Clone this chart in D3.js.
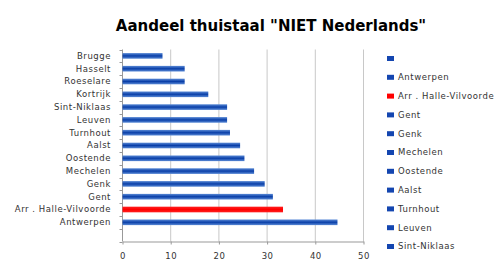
<!DOCTYPE html>
<html>
  <head>
    <meta charset="utf-8">
    <title>Aandeel thuistaal NIET Nederlands</title>
    <style>
body {
  margin: 0;
  background: #fff;
}
text {
  font-family: "DejaVu Sans", sans-serif;
}
    </style>
  </head>
  <body>
    <div id="chart"></div>
    <script src="https://cdn.jsdelivr.net/npm/d3@7/dist/d3.min.js"></script>
    <script>

    // first category is an empty one, drawn at the bottom
    var categories = ['', 'Antwerpen', 'Arr . Halle-Vilvoorde', 'Gent', 'Genk', 'Mechelen',
      'Oostende', 'Aalst', 'Turnhout', 'Leuven', 'Sint-Niklaas', 'Kortrijk',
      'Roeselare', 'Hasselt', 'Brugge'];
    var values = [null, 44.6, 33.3, 31.2, 29.5, 27.3, 25.3, 24.4, 22.3, 21.7, 21.7, 17.8, 12.9, 12.9, 8.3];
    var highlight = 'Arr . Halle-Vilvoorde';
    var xTicks = [0, 10, 20, 30, 40, 50];

    var width = 494,
        height = 265;

    var svg = d3.select('#chart').append('svg')
        .attr('width', width)
        .attr('height', height);

    var defs = svg.append('defs');
    function grad(id, edge, mid) {
      var g = defs.append('linearGradient')
          .attr('id', id)
          .attr('x1', 0).attr('y1', 0).attr('x2', 0).attr('y2', 1);
      g.append('stop').attr('offset', '0%').attr('stop-color', edge);
      g.append('stop').attr('offset', '50%').attr('stop-color', mid);
      g.append('stop').attr('offset', '100%').attr('stop-color', edge);
    }
    grad('blueGrad', '#5a8ad6', '#0a3fa8');
    grad('redGrad', '#ff2020', '#ff0000');

    var x = d3.scaleLinear()
        .domain([0, 50])
        .range([122.5, 363.5]);

    var y = d3.scaleBand()
        .domain(categories)
        .range([241.5, 49.5])
        .paddingInner(0.56)
        .paddingOuter(0.28);

    // title
    svg.append('text')
        .attr('x', 271)
        .attr('y', 31)
        .attr('text-anchor', 'middle')
        .style('font-size', '15px')
        .style('font-weight', 'bold')
        .style('fill', '#000')
        .text('Aandeel thuistaal "NIET Nederlands"');

    // gridlines
    svg.append('g').selectAll('line')
        .data(xTicks.slice(1))
        .enter().append('line')
          .attr('x1', function(d) { return x(d); })
          .attr('x2', function(d) { return x(d); })
          .attr('y1', 49.5)
          .attr('y2', 241.5)
          .style('stroke', '#c8c8c8')
          .style('stroke-width', 1);

    // x axis
    var xAxis = svg.append('g')
        .attr('transform', 'translate(0,241.5)')
        .call(d3.axisBottom(x).tickValues(xTicks).tickSize(3).tickSizeOuter(0).tickPadding(8));
    xAxis.select('.domain').style('stroke', '#999');
    xAxis.selectAll('.tick line').style('stroke', '#999');
    xAxis.selectAll('.tick text')
        .style('font-size', '8.5px')
        .style('letter-spacing', '0.5px')
        .style('fill', '#333')
        .style('font-family', '"DejaVu Sans", sans-serif');

    // y axis
    var yTickPos = d3.range(categories.length + 1).map(function(i) {
      return 241.5 - i * (192 / categories.length);
    });
    var yAxis = svg.append('g');
    yAxis.append('line')
        .attr('x1', 122.5).attr('x2', 122.5)
        .attr('y1', 49.5).attr('y2', 241.5)
        .style('stroke', '#999');
    yAxis.selectAll('.ytick')
        .data(yTickPos)
        .enter().append('line')
          .attr('class', 'ytick')
          .attr('x1', 119.5).attr('x2', 122.5)
          .attr('y1', function(d) { return Math.round(d) + 0.5; })
          .attr('y2', function(d) { return Math.round(d) + 0.5; })
          .style('stroke', '#999');

    yAxis.selectAll('.ylabel')
        .data(categories)
        .enter().append('text')
          .attr('class', 'ylabel')
          .attr('x', 111)
          .attr('y', function(d) { return y(d) + y.bandwidth() / 2; })
          .attr('dy', '0.35em')
          .attr('text-anchor', 'end')
          .style('font-size', '8.5px')
          .style('letter-spacing', '0.55px')
          .style('fill', '#333')
          .text(function(d) { return d; });

    // bars
    var rows = categories.map(function(c, i) { return { name: c, value: values[i] }; })
        .filter(function(d) { return d.value != null; });

    svg.append('g').selectAll('rect')
        .data(rows)
        .enter().append('rect')
          .attr('x', x(0))
          .attr('y', function(d) { return y(d.name); })
          .attr('width', function(d) { return x(d.value) - x(0); })
          .attr('height', y.bandwidth())
          .style('fill', function(d) { return d.name === highlight ? 'url(#redGrad)' : 'url(#blueGrad)'; });

    // legend: only the entries that fit in the chart area are shown
    var legend = svg.append('g').selectAll('g')
        .data(categories.slice(0, 11))
        .enter().append('g')
          .attr('transform', function(d, i) { return 'translate(387,' + (58.5 + i * 18.8) + ')'; });
    legend.append('rect')
        .attr('x', 0)
        .attr('y', -2.5)
        .attr('width', 7)
        .attr('height', 5)
        .style('fill', function(d) { return d === highlight ? '#ff0000' : '#1446b0'; });
    legend.append('text')
        .attr('x', 11)
        .attr('dy', '0.35em')
        .style('font-size', '8.5px')
        .style('letter-spacing', '0.55px')
        .style('fill', '#333')
        .text(function(d) { return d; });

    </script>
  </body>
</html>
